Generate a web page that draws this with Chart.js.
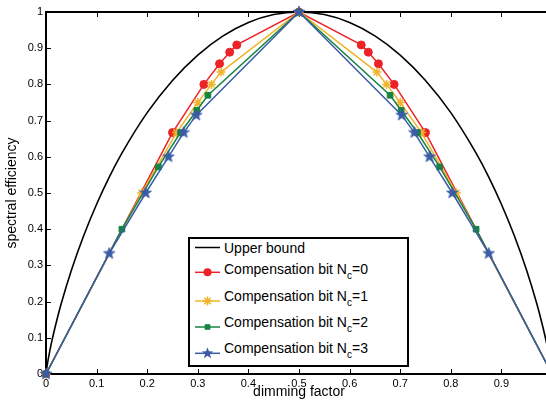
<!DOCTYPE html>
<html lang="en">
<head>
  <meta charset="UTF-8" />
  <title>Spectral efficiency vs dimming factor</title>
  <script src="https://cdn.jsdelivr.net/npm/chart.js"></script>
  <style>
    body {
      margin: 0;
      background: #fff;
      overflow: hidden;
      font-family: "Liberation Sans", Arial, sans-serif;
    }

    #wrap {
      position: relative;
      width: 560px;
      height: 406px;
    }

    #legend {
      position: absolute;
      left: 188px;
      top: 237px;
      width: 221px;
      height: 130px;
      box-sizing: border-box;
      border: 2px solid #000;
      background: #fff;
    }

    #legend svg {
      position: absolute;
      left: 0;
      top: 0;
    }

    .row {
      position: absolute;
      left: 34px;
      height: 16px;
      line-height: 16px;
      font-size: 14px;
      white-space: nowrap;
      color: #000;
    }

    .row sub {
      font-size: 10px;
      vertical-align: -5px;
      line-height: 0;
    }
  </style>
</head>
<body>

<div id="wrap">
  <canvas id="chart" width="560" height="406"></canvas>
  <div id="legend"></div>
</div>

<script>
  // axis ticks
  const xTickValues = [0, 0.1, 0.2, 0.3, 0.4, 0.5, 0.6, 0.7, 0.8, 0.9, 1];
  const yTickValues = [0, 0.1, 0.2, 0.3, 0.4, 0.5, 0.6, 0.7, 0.8, 0.9, 1];

  // upper bound curve
  const boundX = [0, 0.002, 0.005, 0.01, 0.02, 0.03, 0.05, 0.075, 0.1, 0.125, 0.15, 0.2, 0.25, 0.3, 0.35, 0.4, 0.45, 0.5,
                  0.55, 0.6, 0.65, 0.7, 0.75, 0.8, 0.85, 0.875, 0.9, 0.925, 0.95, 0.97, 0.98, 0.99, 0.995, 0.998, 1];
  const boundY = [0, 0.021, 0.045, 0.081, 0.141, 0.194, 0.286, 0.384, 0.469, 0.544, 0.61, 0.722, 0.811, 0.881, 0.934, 0.971, 0.993, 1,
                  0.993, 0.971, 0.934, 0.881, 0.811, 0.722, 0.61, 0.544, 0.469, 0.384, 0.286, 0.194, 0.141, 0.081, 0.045, 0.021, 0];

  // compensation bit Nc = 0
  const nc0X = [0, 0.25, 0.312, 0.343, 0.363, 0.377, 0.5, 0.623, 0.637, 0.657, 0.688, 0.75, 1];
  const nc0Y = [0, 0.667, 0.8, 0.857, 0.889, 0.909, 1, 0.909, 0.889, 0.857, 0.8, 0.667, 0];

  // Nc = 1
  const nc1X = [0, 0.189, 0.258, 0.3, 0.327, 0.346, 0.5, 0.654, 0.673, 0.7, 0.742, 0.811, 1];
  const nc1Y = [0, 0.5, 0.667, 0.75, 0.8, 0.834, 1, 0.834, 0.8, 0.75, 0.667, 0.5, 0];

  // Nc = 2
  const nc2X = [0, 0.15, 0.222, 0.266, 0.298, 0.32, 0.5, 0.68, 0.702, 0.734, 0.778, 0.85, 1];
  const nc2Y = [0, 0.4, 0.572, 0.667, 0.728, 0.77, 1, 0.77, 0.728, 0.667, 0.572, 0.4, 0];

  // Nc = 3
  const nc3X = [0, 0.125, 0.197, 0.242, 0.272, 0.297, 0.5, 0.703, 0.728, 0.758, 0.803, 0.875, 1];
  const nc3Y = [0, 0.333, 0.5, 0.6, 0.667, 0.715, 1, 0.715, 0.667, 0.6, 0.5, 0.333, 0];

  const seriesNames = ['Upper bound', 'Compensation bit N_c=0', 'Compensation bit N_c=1',
                       'Compensation bit N_c=2', 'Compensation bit N_c=3'];

  const RED = '#ec2227';
  const YELLOW = '#f0b42a';
  const GREEN = '#168441';
  const BLUE = '#3a5ba6';
  const FONT = '"Liberation Sans", Arial, sans-serif';

  function pts(xs, ys) {
    return xs.map((x, i) => ({ x: x, y: ys[i] }));
  }

  // MATLAB style pentagram marker
  function pentagram(color, r) {
    const c = document.createElement('canvas');
    const s = Math.ceil(r * 2 + 2);
    c.width = c.height = s;
    const g = c.getContext('2d');
    g.beginPath();
    for (let i = 0; i < 10; i++) {
      const rr = i % 2 ? r * 0.42 : r;
      const a = -Math.PI / 2 + i * Math.PI / 5;
      g.lineTo(s / 2 + rr * Math.cos(a), s / 2 + rr * Math.sin(a));
    }
    g.closePath();
    g.fillStyle = color;
    g.fill();
    g.strokeStyle = color;
    g.lineWidth = 0.8;
    g.stroke();
    return c;
  }

  const starImg = pentagram(BLUE, 6);

  // box + inward tick marks, like matlab axes
  const framePlugin = {
    id: 'frame',
    beforeDatasetsDraw(chart) {
      const { ctx, chartArea: a, scales: { x, y } } = chart;
      ctx.save();
      ctx.strokeStyle = '#000';
      ctx.lineWidth = 1;
      ctx.beginPath();
      xTickValues.forEach(v => {
        const px = Math.round(x.getPixelForValue(v)) + 0.5;
        ctx.moveTo(px, a.bottom); ctx.lineTo(px, a.bottom - 5);
        ctx.moveTo(px, a.top); ctx.lineTo(px, a.top + 5);
      });
      yTickValues.forEach(v => {
        const py = Math.round(y.getPixelForValue(v)) + 0.5;
        ctx.moveTo(a.left, py); ctx.lineTo(a.left + 5, py);
        ctx.moveTo(a.right, py); ctx.lineTo(a.right - 5, py);
      });
      ctx.stroke();
      ctx.lineWidth = 2;
      ctx.strokeRect(a.left, a.top, a.right - a.left, a.bottom - a.top);
      ctx.restore();
    }
  };

  const fmt = v => String(+(+v).toFixed(1));

  const chart = new Chart(document.getElementById('chart'), {
    type: 'line',
    data: {
      datasets: [{
        label: seriesNames[0],
        data: pts(boundX, boundY),
        borderColor: '#000',
        borderWidth: 1.6,
        pointRadius: 0,
        cubicInterpolationMode: 'monotone',
        order: 4
      }, {
        label: seriesNames[1],
        data: pts(nc0X, nc0Y),
        borderColor: RED,
        backgroundColor: RED,
        borderWidth: 1.5,
        pointStyle: 'circle',
        pointRadius: 4,
        pointBorderWidth: 1,
        order: 3
      }, {
        label: seriesNames[2],
        data: pts(nc1X, nc1Y),
        borderColor: YELLOW,
        backgroundColor: YELLOW,
        borderWidth: 1.5,
        pointStyle: 'star',
        pointRadius: 4.5,
        pointBorderWidth: 1.5,
        order: 2
      }, {
        label: seriesNames[3],
        data: pts(nc2X, nc2Y),
        borderColor: GREEN,
        backgroundColor: GREEN,
        borderWidth: 1.5,
        pointStyle: 'rect',
        pointRadius: 4,
        pointBorderWidth: 1,
        order: 1
      }, {
        label: seriesNames[4],
        data: pts(nc3X, nc3Y),
        borderColor: BLUE,
        backgroundColor: BLUE,
        borderWidth: 1.5,
        pointStyle: starImg,
        pointRadius: 5,
        order: 0
      }]
    },
    options: {
      responsive: false,
      animation: false,
      devicePixelRatio: 1,
      layout: { padding: { top: 12, right: 8, left: 0, bottom: 0 }, autoPadding: false },
      elements: { line: { tension: 0 } },
      datasets: { line: { clip: false } },
      plugins: {
        legend: { display: false },
        tooltip: { enabled: false }
      },
      scales: {
        x: {
          type: 'linear',
          min: 0,
          max: 1,
          grid: { display: false, drawTicks: false },
          border: { display: false },
          afterBuildTicks: s => { s.ticks = xTickValues.map(v => ({ value: v })); },
          afterFit: s => { s.height = 32; },
          ticks: {
            padding: 3,
            maxRotation: 0,
            autoSkip: false,
            color: '#000',
            font: { family: FONT, size: 11 },
            callback: fmt
          },
          title: {
            display: true,
            text: 'dimming factor',
            color: '#000',
            font: { family: FONT, size: 14 },
            padding: { top: 0, bottom: 5 }
          }
        },
        y: {
          type: 'linear',
          min: 0,
          max: 1,
          grid: { display: false, drawTicks: false },
          border: { display: false },
          afterBuildTicks: s => { s.ticks = yTickValues.map(v => ({ value: v })); },
          afterFit: s => { s.width = 46; },
          ticks: {
            padding: 3,
            autoSkip: false,
            color: '#000',
            font: { family: FONT, size: 11 },
            callback: fmt
          },
          title: {
            display: true,
            text: 'spectral efficiency',
            color: '#000',
            font: { family: FONT, size: 14 },
            padding: { top: 4, bottom: 0 }
          }
        }
      }
    },
    plugins: [framePlugin]
  });

  // legend with subscripts (Chart.js legend can't do N_c)
  const legendRows = [
    { text: 9.3, mark: 8.5, color: '#000', marker: null },
    { text: 30, mark: 33.3, color: RED, marker: 'circle' },
    { text: 56.7, mark: 62, color: YELLOW, marker: 'asterisk' },
    { text: 83.3, mark: 88, color: GREEN, marker: 'square' },
    { text: 109.3, mark: 114.3, color: BLUE, marker: 'pentagram' }
  ];

  function markerSvg(kind, cx, cy, color) {
    if (kind === 'circle') return `<circle cx="${cx}" cy="${cy}" r="4" fill="${color}"/>`;
    if (kind === 'square') return `<rect x="${cx - 2.8}" y="${cy - 2.8}" width="5.6" height="5.6" fill="${color}"/>`;
    if (kind === 'asterisk') {
      const r = 4.5, d = r * Math.SQRT1_2;
      return `<path d="M${cx - r} ${cy}H${cx + r}M${cx} ${cy - r}V${cy + r}M${cx - d} ${cy - d}L${cx + d} ${cy + d}M${cx - d} ${cy + d}L${cx + d} ${cy - d}" stroke="${color}" stroke-width="1.5"/>`;
    }
    if (kind === 'pentagram') {
      let p = [];
      for (let i = 0; i < 10; i++) {
        const rr = i % 2 ? 6 * 0.42 : 6;
        const a = -Math.PI / 2 + i * Math.PI / 5;
        p.push((cx + rr * Math.cos(a)).toFixed(2) + ',' + (cy + rr * Math.sin(a)).toFixed(2));
      }
      return `<polygon points="${p.join(' ')}" fill="${color}"/>`;
    }
    return '';
  }

  const legend = document.getElementById('legend');
  let svg = '<svg width="34" height="126" xmlns="http://www.w3.org/2000/svg">';
  let html = '';
  legendRows.forEach((r, i) => {
    svg += `<line x1="5" y1="${r.mark}" x2="30" y2="${r.mark}" stroke="${r.color}" stroke-width="1.5"/>`;
    svg += markerSvg(r.marker, 17.5, r.mark, r.color);
    const label = seriesNames[i].replace('_c', '<sub>c</sub>');
    html += `<div class="row" style="top:${(r.text - 8).toFixed(1)}px">${label}</div>`;
  });
  svg += '</svg>';
  legend.innerHTML = svg + html;
</script>

</body>
</html>
